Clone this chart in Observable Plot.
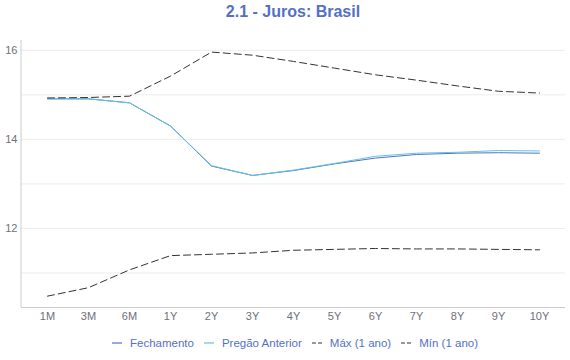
<!DOCTYPE html>
<html><head><meta charset="utf-8">
<script src="https://cdn.jsdelivr.net/npm/d3@7"></script>
<script src="https://cdn.jsdelivr.net/npm/@observablehq/plot@0.6"></script>
<style>
body{margin:0;background:#fff;font-family:"Liberation Sans",Arial,sans-serif;}
#wrap{width:570px;height:360px;position:relative;}
#title{position:absolute;top:3px;left:21px;width:544px;text-align:center;font-weight:bold;font-size:16px;color:#5470c6;}
#chart{position:absolute;top:30px;left:0;}
#legend{position:absolute;top:337px;left:21px;width:548px;display:flex;justify-content:center;font-size:11.5px;color:#5470c6;font-family:"Liberation Sans",Arial,sans-serif;}
.it{display:flex;align-items:center;margin:0 5px}
.it svg{margin-right:8px}
</style></head>
<body><div id="wrap"><div id="title">2.1 - Juros: Brasil</div><div id="chart"></div><div id="legend"></div></div>
<script>
const tenors = ["1M","3M","6M","1Y","2Y","3Y","4Y","5Y","6Y","7Y","8Y","9Y","10Y"];
const fechamento = [14.91,14.91,14.82,14.30,13.40,13.19,13.30,13.45,13.58,13.66,13.69,13.70,13.69];
const pregaoAnterior = [14.91,14.91,14.82,14.30,13.41,13.19,13.31,13.46,13.62,13.69,13.71,13.75,13.74];
const maxAno = [14.93,14.94,14.97,15.42,15.96,15.89,15.75,15.60,15.45,15.33,15.20,15.08,15.04];
const minAno = [10.48,10.67,11.07,11.39,11.42,11.45,11.51,11.53,11.55,11.54,11.54,11.53,11.52];
const series = [
  {name:"Fechamento", vals:fechamento, color:"#5470c6", dash:null},
  {name:"Pregão Anterior", vals:pregaoAnterior, color:"#62c4e0", dash:null},
  {name:"Máx (1 ano)", vals:maxAno, color:"#333", dash:"7,4"},
  {name:"Mín (1 ano)", vals:minAno, color:"#333", dash:"7,4"}
];
const plotMarks = [
  Plot.gridY([11,12,13,14,15,16],{stroke:"#ececec",strokeOpacity:1,strokeWidth:1}),
  Plot.ruleY([10.225],{stroke:"#ccc"}),
  Plot.axisY([12,14,16],{tickSize:0,tickPadding:4,fontSize:11,fill:"#6e7079",label:null}),
  Plot.axisX(tenors,{tickSize:0,tickPadding:5,fontSize:11,fill:"#6e7079",label:null}),
];
for (const s of series) {
  plotMarks.push(Plot.line(tenors.map((t,i)=>({t,v:s.vals[i]})),{x:"t",y:"v",stroke:s.color,strokeWidth:1,strokeDasharray:s.dash}));
}
const chart = Plot.plot({
  width:570,height:300,marginLeft:21,marginRight:5,marginTop:10,marginBottom:23,
  style:{fontFamily:"Liberation Sans, Arial, sans-serif",background:"#fff"},
  x:{type:"point",domain:tenors,padding:0.6},
  y:{domain:[10.225,16.22]},
  marks:plotMarks
});
document.getElementById("chart").appendChild(chart);
d3.select(chart).append("line").attr("x1",21).attr("x2",21).attr("y1",10).attr("y2",277).attr("stroke","#ccc");
const lg = document.getElementById("legend");
for (const s of series) {
  const it = document.createElement("div"); it.className="it";
  it.innerHTML = `<svg width="10" height="4"><line x1="0" x2="10" y1="2" y2="2" stroke="${s.color}" stroke-width="1.2" ${s.dash?'stroke-dasharray="4,2"':''}/></svg><span>${s.name}</span>`;
  lg.appendChild(it);
}
</script></body></html>
